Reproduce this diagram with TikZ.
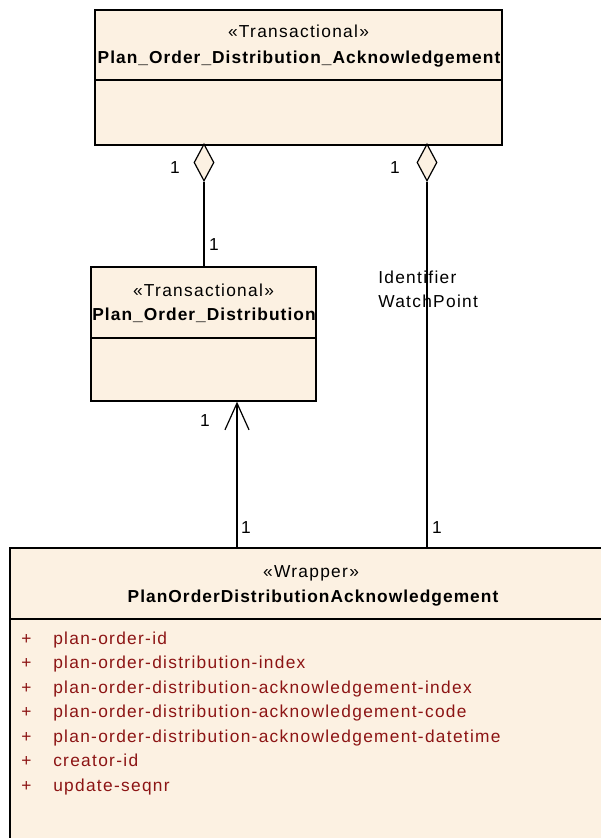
\documentclass[tikz,border=0pt]{standalone}
\usepackage{fontspec}
\setmainfont{Liberation Sans}[LetterSpace=7.5,BoldFeatures={LetterSpace=6}]
\usetikzlibrary{arrows.meta,shapes.geometric}
\definecolor{clsfill}{RGB}{252,241,226}
\definecolor{attrcol}{RGB}{140,20,20}

\begin{document}
\begin{tikzpicture}[x=0.75pt,y=-0.75pt,font=\fontsize{13}{15.5}\selectfont,
  cls/.style 2 args={draw,line width=1pt,fill=clsfill,minimum width=#1*0.75pt,minimum height=#2*0.75pt,inner sep=0pt},
  ster/.style={anchor=base,inner sep=0pt},
  ttl/.style={anchor=base,inner sep=0pt,font=\fontsize{13}{15.5}\selectfont\bfseries},
  mult/.style={anchor=base,inner sep=0pt},
  agg/.style={diamond,draw,line width=0.9pt,fill=clsfill,minimum width=15pt,minimum height=27.75pt,inner sep=0pt},
  attr/.style={anchor=base west,inner sep=0pt,text=attrcol},
  conn/.style={line width=0.9pt}]
\useasboundingbox (0,0) rectangle (600,838);

% ---------- class boxes ----------
\node[cls={407}{135}] (ack) at (298.5,77.5) {};
\draw[line width=1pt] (ack.west |- 0,80) -- (ack.east |- 0,80);
\node[ster] (ackS) at (298.5,38) {«Transactional»};
\node[ttl] (ackN) at (299,64) {Plan\_Order\_Distribution\_Acknowledgement};

\node[cls={225}{134}] (dist) at (203.5,334) {};
\draw[line width=1pt] (dist.west |- 0,338) -- (dist.east |- 0,338);
\node[ster] (distS) at (203.5,296) {«Transactional»};
\node[ttl] (distN) at (204,320) {Plan\_Order\_Distribution};

\node[cls={600}{300}] (wrap) at (310,698) {};
\draw[line width=1pt] (wrap.west |- 0,619) -- (wrap.east |- 0,619);
\node[ster] (wrapS) at (311,577) {«Wrapper»};
\node[ttl] (wrapN) at (313,602) {PlanOrderDistributionAcknowledgement};

% attributes
\foreach \a [count=\i from 0] in {plan-order-id,plan-order-distribution-index,
  plan-order-distribution-acknowledgement-index,plan-order-distribution-acknowledgement-code,
  plan-order-distribution-acknowledgement-datetime,creator-id,update-seqnr}{
  \node[attr] (p\i) at (21,644+24.5*\i) {+};
  \node[attr] (a\i) at (53,644+24.5*\i) {\a};
}

% ---------- connectors ----------
\node[agg] (dL) at (204,162.5) {};
\node[agg] (dR) at (427,162.5) {};
\draw[conn] (dL.south) -- (dist.north -| dL.south);
\draw[conn] (dR.south) -- (wrap.north -| dR.south);
\coordinate (gen) at (237,548);
\draw[conn,-{Straight Barb[length=20pt,width=18pt]}] (gen) -- (dist.south -| gen);

% multiplicities
\node[mult] (m1) at (175,173) {1};
\node[mult] (m2) at (395,173) {1};
\node[mult] (m3) at (214,250) {1};
\node[mult] (m4) at (205,426) {1};
\node[mult] (m5) at (246,533) {1};
\node[mult] (m6) at (437,533) {1};
\node[anchor=base west,inner sep=0pt,align=left] (role) at (378,307) {Identifier\\[2.5pt]WatchPoint};
\end{tikzpicture}
\end{document}
